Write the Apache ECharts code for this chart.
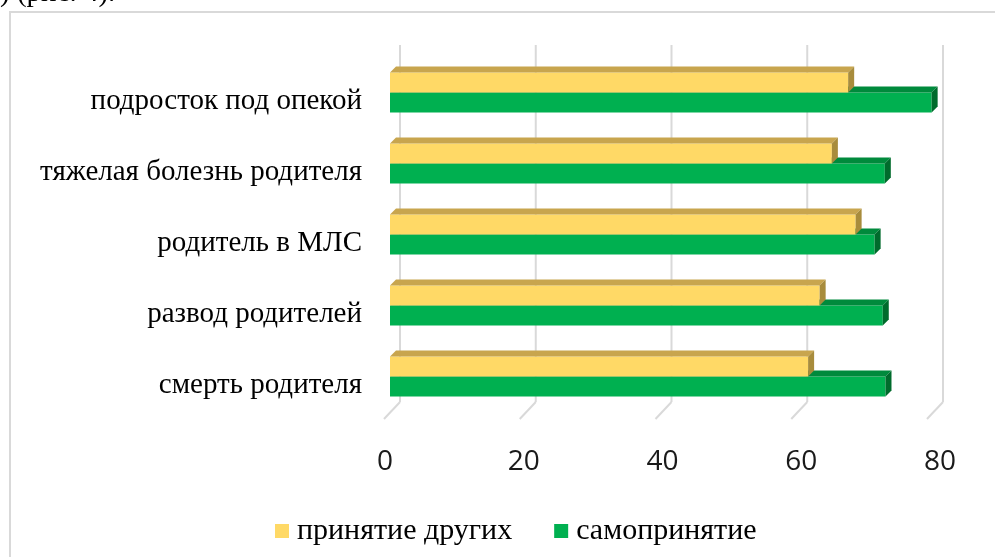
<!DOCTYPE html>
<html>
<head>
<meta charset="utf-8">
<script src="https://cdn.jsdelivr.net/npm/echarts@6/dist/echarts.min.js"></script>
<style>
  html, body { margin: 0; padding: 0; background: #fff; }
  #chart { width: 995px; height: 557px; }
</style>
</head>
<body>
<div id="chart"></div>
<script>
// категории сверху вниз
var categories = ['подросток под опекой', 'тяжелая болезнь родителя', 'родитель в МЛС', 'развод родителей', 'смерть родителя'];
var seriesNames = ['принятие других', 'самопринятие'];
var othersValues = [67.5, 65.1, 68.6, 63.3, 61.6];
var selfValues = [79.8, 72.9, 71.4, 72.6, 73.0];
var xTicks = [0, 20, 40, 60, 80];

var chart = echarts.init(document.getElementById('chart'));

// цвета граней "объёмного" столбика: перед, верх, бок
var yellowFaces = ['#FFD966', '#C8A54E', '#A88C3C'];
var greenFaces = ['#00B050', '#008A3C', '#006B2C'];
var depth = 6;
var barH = 20;

function bar3d(faces, upper) {
  return function (params, api) {
    var idx = api.value(0);
    var start = api.coord([0, idx]);
    var end = api.coord([api.value(1), idx]);
    var x0 = start[0], x1 = end[0];
    var y0 = upper ? start[1] - barH : start[1];
    return {
      type: 'group',
      children: [
        { type: 'rect', shape: { x: x0, y: y0, width: x1 - x0, height: barH }, style: { fill: faces[0] } },
        { type: 'polygon', shape: { points: [[x0, y0], [x0 + depth, y0 - depth], [x1 + depth, y0 - depth], [x1, y0]] }, style: { fill: faces[1] } },
        { type: 'polygon', shape: { points: [[x1, y0], [x1 + depth, y0 - depth], [x1 + depth, y0 + barH - depth], [x1, y0 + barH]] }, style: { fill: faces[2] } }
      ]
    };
  };
}

// сетка: задняя стенка + линии пола
function gridRender(params, api) {
  var rect = params.coordSys;
  var x = api.coord([api.value(0), 0])[0];
  var top = rect.y - 12, back = rect.y + rect.height - 10, front = rect.y + rect.height + 7;
  return {
    type: 'group',
    children: [
      { type: 'line', shape: { x1: x + 10, y1: top, x2: x + 10, y2: back }, style: { stroke: '#D9D9D9', lineWidth: 2 } },
      { type: 'line', shape: { x1: x + 10, y1: back, x2: x - 6, y2: front }, style: { stroke: '#D9D9D9', lineWidth: 2 } }
    ]
  };
}

var option = {
  backgroundColor: '#fff',
  animation: false,
  graphic: [
    { type: 'rect', shape: { x: 10, y: 12, width: 1000, height: 560 }, style: { fill: 'none', stroke: '#D9D9D9', lineWidth: 2 } },
    { type: 'text', left: 0, top: -21, style: { text: ') (рис. 4).', font: '29px "Liberation Serif"', fill: '#000' } }
  ],
  legend: {
    data: seriesNames,
    top: 511,
    left: 270,
    icon: 'rect',
    itemWidth: 14,
    itemHeight: 14,
    itemGap: 42,
    textStyle: { fontFamily: 'Liberation Serif', fontSize: 30, color: '#000', padding: [0, 0, 0, 3] }
  },
  grid: [
    { left: 390, right: 62, top: 57, bottom: 145 },
    { left: 385, right: 55, top: 57, bottom: 145 }
  ],
  xAxis: [
    {
      type: 'value',
      gridIndex: 0,
      min: 0,
      max: 80,
      interval: 20,
      axisLine: { show: false },
      axisTick: { show: false },
      splitLine: { show: false },
      axisLabel: { show: false }
    },
    {
      type: 'value',
      gridIndex: 1,
      min: 0,
      max: 80,
      interval: 20,
      axisLine: { show: false },
      axisTick: { show: false },
      splitLine: { show: false },
      axisLabel: { margin: 36, fontFamily: 'Open Sans', fontSize: 28, color: '#1a1a1a' }
    }
  ],
  yAxis: [
    {
      type: 'category',
      gridIndex: 0,
      inverse: true,
      data: categories,
      axisLine: { show: false },
      axisTick: { show: false },
      axisLabel: { margin: 28, fontFamily: 'Liberation Serif', fontSize: 29, color: '#000', verticalAlign: 'top', lineHeight: 18 }
    },
    {
      type: 'category',
      gridIndex: 1,
      data: categories,
      show: false
    }
  ],
  series: [
    {
      type: 'custom',
      silent: true,
      renderItem: gridRender,
      data: xTicks.map(function (t) { return [t]; }),
      encode: { x: 0 },
      z: 1
    },
    {
      name: seriesNames[1],
      type: 'custom',
      renderItem: bar3d(greenFaces, false),
      itemStyle: { color: greenFaces[0] },
      data: selfValues.map(function (v, i) { return [i, v]; }),
      encode: { y: 0, x: 1 },
      z: 2
    },
    {
      name: seriesNames[0],
      type: 'custom',
      renderItem: bar3d(yellowFaces, true),
      itemStyle: { color: yellowFaces[0] },
      data: othersValues.map(function (v, i) { return [i, v]; }),
      encode: { y: 0, x: 1 },
      z: 3
    }
  ]
};

chart.setOption(option);
</script>
</body>
</html>
